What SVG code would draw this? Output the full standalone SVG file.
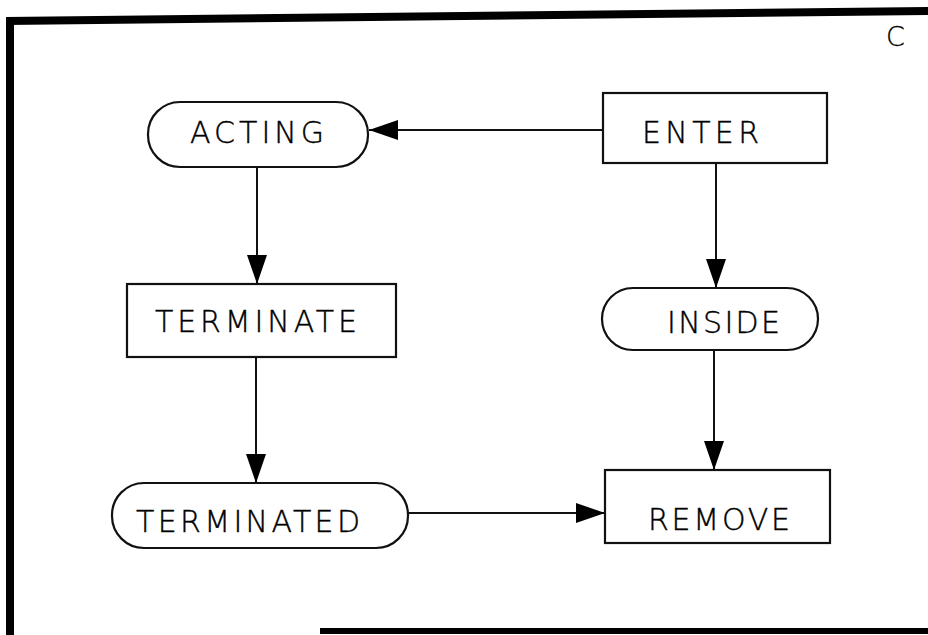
<svg xmlns="http://www.w3.org/2000/svg" width="928" height="635" viewBox="0 0 928 635">
  <style>
    .shape { fill: #fff; stroke: #111; stroke-width: 2.2; }
    .lbl { font-family: "DejaVu Sans", "Liberation Sans", sans-serif; font-size: 30px; font-weight: 300; fill: #000; stroke: #000; stroke-width: 0.4; }
    .conn { stroke: #111; stroke-width: 2; fill: none; marker-end: url(#arr); }
  </style>
  <defs>
    <marker id="arr" markerUnits="userSpaceOnUse" markerWidth="30" markerHeight="22" refX="29" refY="11" orient="auto">
      <path d="M0,1 L29,11 L0,21 z" fill="#000"/>
    </marker>
  </defs>
  <rect width="928" height="635" fill="#fff"/>
  <g id="frame">
    <polygon points="6,17 928,7 928,15 6,25" fill="#000"/>
    <rect x="6" y="17" width="8" height="618" fill="#000"/>
    <rect x="320" y="628" width="608" height="6" fill="#000"/>
    <text x="886" y="46" style="font-family: 'DejaVu Sans', sans-serif; font-size: 27px; font-weight: 300; fill: #000; stroke: #000; stroke-width: 0.3;">C</text>
  </g>
  <g id="connectors">
    <line class="conn" x1="603" y1="130" x2="369" y2="130"/>
    <line class="conn" x1="257" y1="167" x2="257" y2="284"/>
    <line class="conn" x1="256" y1="357" x2="256" y2="483"/>
    <line class="conn" x1="716" y1="163" x2="716" y2="288"/>
    <line class="conn" x1="714" y1="350" x2="714" y2="470"/>
    <line class="conn" x1="408" y1="513" x2="605" y2="513"/>
  </g>
  <g id="acting">
    <rect class="shape" x="148" y="102" width="220" height="65" rx="32" ry="32"/>
    <text class="lbl" x="190" y="143" textLength="134" lengthAdjust="spacing">ACTING</text>
  </g>
  <g id="enter">
    <rect class="shape" x="603" y="93" width="224" height="70"/>
    <text class="lbl" x="642" y="143" textLength="117" lengthAdjust="spacing">ENTER</text>
  </g>
  <g id="terminate">
    <rect class="shape" x="127" y="284" width="269" height="73"/>
    <text class="lbl" x="155" y="332" textLength="202" lengthAdjust="spacing">TERMINATE</text>
  </g>
  <g id="inside">
    <rect class="shape" x="602" y="288" width="216" height="62" rx="31" ry="31"/>
    <text class="lbl" x="667" y="333" textLength="113" lengthAdjust="spacing">INSIDE</text>
  </g>
  <g id="terminated">
    <rect class="shape" x="112" y="483" width="296" height="65" rx="32" ry="32"/>
    <text class="lbl" x="136" y="532" textLength="224" lengthAdjust="spacing">TERMINATED</text>
  </g>
  <g id="remove">
    <rect class="shape" x="605" y="470" width="225" height="73"/>
    <text class="lbl" x="648" y="530" textLength="142" lengthAdjust="spacing">REMOVE</text>
  </g>
</svg>
